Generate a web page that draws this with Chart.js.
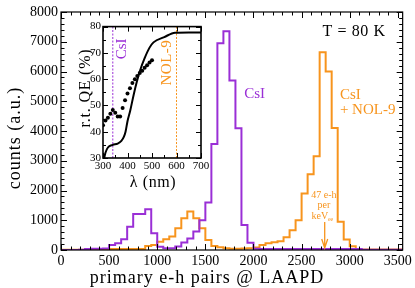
<!DOCTYPE html>
<html>
<head>
<meta charset="utf-8">
<script src="https://cdn.jsdelivr.net/npm/chart.js@4.4.0/dist/chart.umd.min.js"></script>
<style>
  html, body { margin: 0; padding: 0; background: #fff; }
  #wrap { position: relative; width: 415px; height: 288px; }
  #main { position: absolute; left: 0; top: 0; }
  #inset { position: absolute; left: 76px; top: 18px; }
</style>
</head>
<body>
<div id="wrap">
  <canvas id="main" width="415" height="288"></canvas>
  <canvas id="inset" width="140" height="177"></canvas>
</div>
<script>
// histogram: bins of 62.5 e-h pairs starting at 0
const binWidth = 62.5;
const csiCounts = [
  0, 0, 0, 5, 30, 40, 45, 50, 170, 225,
  360, 780, 1210, 1210, 1370, 560, 110, 55, 55, 120,
  250, 390, 620, 1000, 1600, 3560, 6950, 7350, 5700, 4090,
  840, 245, 40, 35, 35, 35, 35, 35, 35, 35,
  35, 35, 35, 35, 35, 35, 35, 35, 35, 35,
  5, 5, 5, 5, 5, 5, 5
];
const nolCounts = [
  12, 12, 12, 12, 12, 12, 12, 12, 35, 35,
  35, 35, 35, 35, 135, 170, 280, 360, 450, 730,
  1065, 1290, 1065, 730, 336, 135, 90, 55, 45, 45,
  50, 60, 80, 170, 230, 260, 290, 430, 660, 1000,
  1900, 2550, 3150, 6650, 6000, 4100, 950, 350, 130, 15,
  15, 15, 15, 15, 15, 15, 15
];
const xTicks = [0, 500, 1000, 1500, 2000, 2500, 3000, 3500];
const yTicks = [0, 1000, 2000, 3000, 4000, 5000, 6000, 7000, 8000];

// inset: room temperature QE vs wavelength
const dotLambda = [300, 310, 320, 330, 340, 350, 360, 370, 380, 390, 400,
                   410, 420, 430, 440, 450, 460, 470, 480, 490, 500];
const dotQE = [42.5, 44.3, 45.3, 46.8, 48.3, 47.2, 45.8, 45.8, 49, 52, 54.5,
               56.5, 58.5, 60, 61.2, 62.3, 63.2, 64.3, 65.3, 66.3, 67.2];
const lineLambda = [305, 310, 320, 340, 360, 375, 385, 392, 400, 411, 425,
                    438, 452, 470, 490, 506, 550, 594, 650, 700];
const lineQE = [30, 32, 34, 35, 35.5, 36.5, 38, 40, 44, 48, 54,
                59, 63.5, 68, 72, 74, 76, 77.7, 77.8, 77.8];
const insetXTicks = [300, 400, 500, 600, 700];
const insetYTicks = [30, 40, 50, 60, 70, 80];
const csiEmission = 340;
const nolEmission = 600;

const purple = '#9a2fd6';
const orange = '#f7941d';
const serif = "'Liberation Serif', serif";

Chart.defaults.font.family = serif;
Chart.defaults.color = '#000';

function histPoints(counts) {
  const pts = counts.map((c, i) => ({ x: i * binWidth, y: c }));
  pts.push({ x: counts.length * binWidth, y: counts[counts.length - 1] });
  return pts;
}

function isMultiple(v, step) {
  return Math.abs(v / step - Math.round(v / step)) < 1e-6;
}

function drawText(ctx, text, x, y, opts) {
  ctx.save();
  ctx.font = opts.font;
  ctx.fillStyle = opts.color || '#000';
  ctx.textAlign = opts.align || 'center';
  ctx.textBaseline = 'middle';
  if (opts.spacing) ctx.letterSpacing = opts.spacing;
  ctx.translate(x, y);
  if (opts.rotate) ctx.rotate(opts.rotate);
  ctx.fillText(text, 0, 0);
  ctx.restore();
}

// ticks pointing inward on all four sides, plus the frame
const innerTicks = {
  id: 'innerTicks',
  afterDraw(chart, args, o) {
    const { ctx, chartArea: a } = chart;
    const xs = chart.scales.x, ys = chart.scales.y;
    ctx.save();
    ctx.strokeStyle = '#000';
    ctx.lineWidth = 1;
    ctx.beginPath();
    for (let v = xs.min; v <= xs.max + 1e-9; v += o.xMinor) {
      const len = isMultiple(v, o.xMajor) ? o.majorLen : o.minorLen;
      const px = Math.round(xs.getPixelForValue(v)) + 0.5;
      ctx.moveTo(px, a.bottom); ctx.lineTo(px, a.bottom - len);
      ctx.moveTo(px, a.top); ctx.lineTo(px, a.top + len);
    }
    for (let v = ys.min; v <= ys.max + 1e-9; v += o.yMinor) {
      const len = isMultiple(v, o.yMajor) ? o.majorLen : o.minorLen;
      const py = Math.round(ys.getPixelForValue(v)) + 0.5;
      ctx.moveTo(a.left, py); ctx.lineTo(a.left + len, py);
      ctx.moveTo(a.right, py); ctx.lineTo(a.right - len, py);
    }
    ctx.stroke();
    ctx.lineWidth = o.frameWidth;
    ctx.strokeRect(a.left, a.top, a.right - a.left, a.bottom - a.top);
    ctx.restore();
  }
};

// axis titles, text labels and the 47 e-h/keV arrow
const mainNotes = {
  id: 'mainNotes',
  afterDraw(chart) {
    const { ctx } = chart;
    const xs = chart.scales.x, ys = chart.scales.y;
    const X = v => xs.getPixelForValue(v), Y = v => ys.getPixelForValue(v);

    drawText(ctx, 'primary e-h pairs @ LAAPD', 207, 278, { font: `18px ${serif}`, spacing: '1px' });
    drawText(ctx, 'counts (a.u.)', 15, 138, { font: `18px ${serif}`, spacing: '1px', rotate: -Math.PI / 2 });

    drawText(ctx, 'T = 80 K', X(3374), Y(7325), { font: `16px ${serif}`, align: 'right', spacing: '0.6px' });
    drawText(ctx, 'CsI', X(1904), Y(5240), { font: `15px ${serif}`, align: 'left', color: purple });
    drawText(ctx, 'CsI', X(2898), Y(5208), { font: `15px ${serif}`, align: 'left', color: orange });
    drawText(ctx, '+ NOL-9', X(2898), Y(4704), { font: `15px ${serif}`, align: 'left', color: orange });

    const small = { font: `10px ${serif}`, color: orange };
    drawText(ctx, '47 e-h', X(2732), Y(1848), small);
    drawText(ctx, 'per', X(2732), Y(1512), small);
    const kx = X(2732) - 4, ky = Y(1142);
    drawText(ctx, 'keV', kx, ky, small);
    drawText(ctx, 'ee', kx + 8, ky + 3, { font: `6px ${serif}`, color: orange, align: 'left' });

    // arrow
    const ax = X(2740), ay0 = Y(940), ay1 = Y(67);
    ctx.save();
    ctx.strokeStyle = orange;
    ctx.lineWidth = 1.3;
    ctx.beginPath();
    ctx.moveTo(ax, ay0); ctx.lineTo(ax, ay1);
    ctx.moveTo(ax - 3, ay1 - 9); ctx.lineTo(ax, ay1); ctx.lineTo(ax + 3, ay1 - 9);
    ctx.stroke();
    ctx.restore();
  }
};

const plainTick = v => String(v);

new Chart(document.getElementById('main'), {
  type: 'line',
  data: {
    datasets: [
      { data: histPoints(csiCounts), borderColor: purple, borderWidth: 2, stepped: 'before', pointRadius: 0, fill: false },
      { data: histPoints(nolCounts), borderColor: orange, borderWidth: 2, stepped: 'before', pointRadius: 0, fill: false }
    ]
  },
  options: {
    responsive: false,
    animation: false,
    devicePixelRatio: 1,
    layout: { padding: { top: 12, right: 11, left: 0, bottom: 0 } },
    plugins: {
      legend: { display: false },
      tooltip: { enabled: false },
      innerTicks: { xMinor: 100, xMajor: 500, yMinor: 200, yMajor: 1000, majorLen: 6, minorLen: 3.5, frameWidth: 1.2 }
    },
    scales: {
      x: {
        type: 'linear', min: 0, max: 3550,
        afterBuildTicks: s => { s.ticks = xTicks.map(v => ({ value: v })); },
        afterFit: s => { s.height = 38; },
        grid: { display: false, drawTicks: false },
        border: { display: false },
        ticks: { font: { size: 14 }, padding: 3, maxRotation: 0, callback: plainTick }
      },
      y: {
        type: 'linear', min: 0, max: 8000,
        afterBuildTicks: s => { s.ticks = yTicks.map(v => ({ value: v })); },
        afterFit: s => { s.width = 61; },
        grid: { display: false, drawTicks: false },
        border: { display: false },
        ticks: { font: { size: 14 }, padding: 3, callback: plainTick }
      }
    }
  },
  plugins: [innerTicks, mainNotes]
});

const insetNotes = {
  id: 'insetNotes',
  afterDraw(chart) {
    const { ctx } = chart;
    const xs = chart.scales.x, ys = chart.scales.y;
    const X = v => xs.getPixelForValue(v), Y = v => ys.getPixelForValue(v);
    drawText(ctx, 'CsI', X(377), Y(71.5), { font: `15px ${serif}`, color: purple, rotate: -Math.PI / 2 });
    drawText(ctx, 'NOL-9', X(562), Y(66.3), { font: `15px ${serif}`, color: orange, rotate: -Math.PI / 2, spacing: '0.5px' });
    drawText(ctx, 'λ (nm)', 77, 164.5, { font: `16px ${serif}`, spacing: '0.6px' });
    drawText(ctx, 'r.t. QE (%)', 10, 70, { font: `16px ${serif}`, spacing: '0.8px', rotate: -Math.PI / 2 });
  }
};

new Chart(document.getElementById('inset'), {
  type: 'line',
  data: {
    datasets: [
      { data: lineLambda.map((x, i) => ({ x, y: lineQE[i] })), borderColor: '#000', borderWidth: 2, pointRadius: 0, cubicInterpolationMode: 'monotone', fill: false },
      { data: dotLambda.map((x, i) => ({ x, y: dotQE[i] })), showLine: false, pointRadius: 2, pointBackgroundColor: '#000', pointBorderWidth: 0 },
      { data: [{ x: csiEmission, y: 30 }, { x: csiEmission, y: 80 }], borderColor: purple, borderWidth: 1, borderDash: [2, 1.5], pointRadius: 0 },
      { data: [{ x: nolEmission, y: 30 }, { x: nolEmission, y: 80 }], borderColor: orange, borderWidth: 1, borderDash: [2, 1.5], pointRadius: 0 }
    ]
  },
  options: {
    responsive: false,
    animation: false,
    devicePixelRatio: 1,
    layout: { padding: { top: 7, right: 15, left: 0, bottom: 0 } },
    plugins: {
      legend: { display: false },
      tooltip: { enabled: false },
      innerTicks: { xMinor: 50, xMajor: 100, yMinor: 5, yMajor: 10, majorLen: 5, minorLen: 3, frameWidth: 1.6 }
    },
    scales: {
      x: {
        type: 'linear', min: 300, max: 700,
        afterBuildTicks: s => { s.ticks = insetXTicks.map(v => ({ value: v })); },
        afterFit: s => { s.height = 37; },
        grid: { display: false, drawTicks: false },
        border: { display: false },
        ticks: { font: { size: 11 }, padding: 2, maxRotation: 0, callback: plainTick }
      },
      y: {
        type: 'linear', min: 30, max: 80,
        afterBuildTicks: s => { s.ticks = insetYTicks.map(v => ({ value: v })); },
        afterFit: s => { s.width = 27; },
        grid: { display: false, drawTicks: false },
        border: { display: false },
        ticks: { font: { size: 11 }, padding: 2, callback: plainTick }
      }
    }
  },
  plugins: [innerTicks, insetNotes]
});
</script>
</body>
</html>
